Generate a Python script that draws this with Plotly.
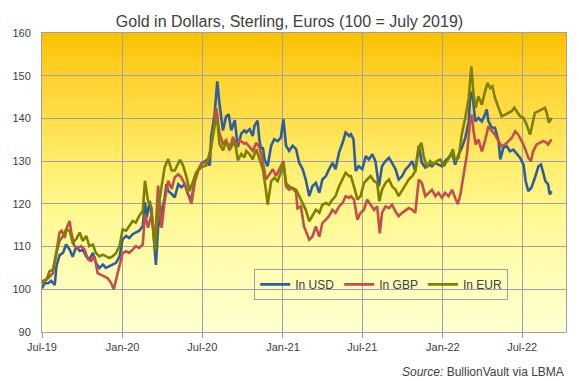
import base64
import pandas as pd
import plotly.graph_objects as go

BASE = pd.Timestamp("2019-07-01")

# day offsets from 1 July 2019, index values (100 = July 2019)
usd_days = [0, 6, 14, 21, 29, 33, 40, 48, 55, 63, 70, 78, 86, 93, 101, 108, 116, 123, 131, 139, 146, 154, 161, 169, 177, 184, 192, 199, 207, 214, 222, 230,
            235, 239, 246, 254, 260, 265, 273, 280, 284, 288, 296, 303, 311, 318, 326, 333, 341, 349, 356, 364, 375, 383, 386, 394, 400, 405, 413, 420, 426, 432, 440, 447, 455, 462,
            466, 474, 481, 485, 492, 496, 500, 504, 508, 515, 523, 530, 538, 545, 551, 557, 564, 572, 580, 587, 595, 602, 610, 617, 625, 633, 640, 648, 655, 663, 670, 678, 686, 693, 701,
            705, 711, 716, 723, 731, 739, 746, 754, 761, 769, 776, 784, 792, 799, 807, 814, 822, 830, 837, 845, 852, 860, 867, 875, 883, 890, 898, 905, 913, 920, 928, 936,
            943, 951, 958, 966, 974, 977, 981, 985, 989, 996, 1004, 1011, 1015, 1019, 1027, 1034, 1042, 1046, 1053, 1061, 1068, 1076, 1083, 1091, 1099, 1104, 1110, 1117, 1125, 1133, 1139, 1144, 1149, 1155, 1159, 1163]
usd_vals = [100.2, 101.4, 101.4, 102, 101, 105.4, 108, 108.5, 110.5, 109.3, 107.6, 110, 109, 109.3, 107.7, 107, 108.5, 106.2, 105, 105.8, 105, 105.4, 105.8, 106.2, 107.7, 111.7, 112.5, 112, 112.9, 113.3, 113.7, 114.8,
            120.4, 116.8, 120.7, 113.6, 105.7, 114.4, 118.3, 121.5, 124.6, 123, 122.3, 121.5, 124.6, 123.9, 124.6, 122.3, 121, 125.4, 127.8, 129.4, 130.2, 129, 135.7, 141, 148.7, 143.5, 137.2, 140.4, 141, 137.2, 139.6, 133.3, 136.5, 137.2,
            136.7, 137.5, 135.9, 138.3, 139.5, 135.1, 132.8, 133.2, 130.4, 128.8, 133.6, 135.1, 134.7, 135.5, 139.8, 133.6, 132.4, 133.6, 132.8, 129.6, 128.1, 125.7, 121.8, 124.1, 124.9, 122.6, 125.7, 126.5, 128.1, 129.6, 128.1, 132, 134.3, 136.7, 135.9,
            136.3, 135.1, 127.7, 128.8, 128.1, 131.2, 130.4, 131.6, 130, 124.1, 128.8, 130, 130.8, 129.6, 128.1, 125.7, 126.5, 128.1, 128.8, 130, 127.7, 133.6, 129.6, 128.5, 129.2, 128.8, 129.6, 129.2, 128.8, 130, 130.8, 132,
            129.2, 131.6, 133.1, 135.4, 139.3, 144.8, 146.3, 143.2, 139.3, 140.1, 139.3, 140.9, 142.1, 139.3, 137.8, 137.8, 134.7, 130.4, 133.1, 133.5, 132.3, 132.7, 131.9, 130.8, 129.2, 125.3, 123, 123.8, 126.1, 128.8, 129.2, 126.9, 125.3, 124.6, 122.2, 123]

gbp_days = [0, 14, 25, 33, 40, 45, 52, 58, 63, 67, 74, 82, 89, 97, 105, 112, 120, 127, 135, 142, 150, 158, 164, 169, 177, 184, 192, 199, 207, 214, 222, 230,
            235, 242, 250, 258, 265, 273, 280, 288, 296, 303, 311, 318, 326, 333, 341, 349, 356, 364, 375, 383, 390, 398, 405, 413, 420, 428, 436, 443, 451, 462,
            466, 474, 481, 489, 496, 504, 511, 519, 527, 534, 542, 551, 557, 564, 572, 580, 583, 591, 598, 610, 617, 625, 633, 640, 648, 655, 663, 670, 678, 686, 693, 701,
            705, 712, 720, 727, 735, 742, 750, 758, 765, 771, 776, 784, 792, 799, 807, 814, 822, 830, 837, 845, 852, 860, 867, 875, 883, 890, 898, 905, 913, 920, 928, 936,
            943, 949, 955, 962, 970, 977, 981, 985, 990, 996, 1004, 1011, 1019, 1027, 1034, 1042, 1049, 1057, 1064, 1072, 1080, 1087, 1095, 1102, 1110, 1116, 1121, 1129, 1136, 1144, 1152, 1155, 1163]
gbp_vals = [101.8, 102.6, 103.8, 109.3, 113.3, 113.7, 112, 114.8, 116, 113.3, 110.1, 109.7, 110.1, 109.3, 107, 106.6, 107.7, 103.8, 103.4, 103, 102.6, 101.4, 100, 102.2, 105.8, 108.5, 108.9, 108.5, 109.3, 110.1, 109.7, 110.5,
            117.6, 114.4, 117.6, 111, 124.3, 114.4, 120.7, 125.4, 123.5, 126.2, 126.9, 126.2, 124.6, 122.3, 120, 125.4, 127.8, 129.4, 129.8, 131, 136.5, 142.4, 136.5, 134.1, 134.9, 132.5, 135.7, 133.3, 134.9, 134.1,
            134.3, 133.2, 132.4, 134.3, 133.2, 130, 125.7, 126.9, 128.1, 126.5, 128.1, 130, 124.1, 123.3, 123.7, 122.6, 119, 119.4, 114.7, 111.6, 112.3, 114.7, 112.3, 115.5, 116.3, 117.1, 118.6, 117.9, 119.4, 120.2, 121.8, 121.4,
            121.8, 121, 116.3, 117.9, 118.6, 121, 119.8, 118.6, 119.4, 113.1, 117.9, 119.4, 119, 119.8, 118.2, 117.1, 117.9, 118.6, 119, 118.6, 117.9, 125.7, 124.9, 121.8, 122.6, 123.3, 121.8, 122.6, 121.4, 122.6, 121.8, 123.3,
            121.4, 119.9, 122.2, 126.9, 131.6, 139.3, 140.9, 137, 133.9, 135.1, 132.3, 134.7, 138.2, 137, 136.2, 134.7, 133.5, 133.9, 134.7, 135.4, 137, 136.2, 134.7, 133.1, 130.8, 130, 132.3, 133.9, 134.3, 134.7, 134.3, 133.9, 135.1]

eur_days = [0, 10, 17, 25, 33, 40, 48, 55, 63, 70, 78, 86, 93, 101, 108, 116, 123, 131, 139, 146, 154, 161, 169, 177, 184, 192, 199, 207, 214, 222, 230,
            235, 242, 250, 258, 261, 269, 280, 288, 296, 303, 315, 322, 330, 337, 345, 352, 364, 375, 386, 395, 400, 405, 413, 420, 432, 440, 447, 455, 462,
            466, 474, 481, 489, 496, 504, 511, 515, 523, 530, 538, 545, 551, 557, 564, 572, 580, 587, 595, 602, 610, 617, 625, 633, 640, 648, 655, 663, 670, 678, 686, 693, 701,
            705, 712, 720, 727, 735, 742, 750, 758, 765, 770, 776, 784, 792, 799, 807, 814, 822, 830, 837, 845, 852, 860, 866, 871, 879, 886, 894, 901, 909, 917, 924, 932, 938,
            943, 951, 958, 966, 974, 977, 980, 985, 990, 996, 1004, 1011, 1017, 1023, 1028, 1034, 1042, 1049, 1057, 1064, 1072, 1078, 1083, 1091, 1099, 1106, 1114, 1119, 1125, 1133, 1140, 1148, 1152, 1157, 1163]
eur_vals = [101.4, 102.2, 104.2, 104.6, 108.5, 111.3, 112.5, 114, 113.7, 110.9, 111.7, 113.3, 111.3, 112.5, 110.1, 110.5, 108.5, 107.7, 108.1, 107.7, 107.3, 107.7, 108.5, 110.1, 114, 113.7, 114.8, 116, 115.6, 117.2, 118.4,
            125.4, 120.7, 119.1, 109, 113.6, 121.5, 128.6, 130.5, 127.8, 127.8, 130.3, 129, 126.2, 123, 125.4, 127.4, 128.6, 129, 133.3, 138.8, 139.6, 134.1, 132.5, 134.5, 133.3, 134.9, 130.2, 131.7, 130.9,
            132.4, 131.6, 130.4, 132.8, 130.4, 128.1, 123.3, 119.8, 125.3, 126.1, 125.3, 127.3, 129.6, 124.9, 124.1, 123.7, 123.3, 121.8, 120.2, 118.6, 115.9, 117.1, 118.6, 117.9, 119.8, 120.2, 119.8, 121, 121.8, 124.1, 125.7, 127.3, 126.5,
            126.5, 124.1, 121, 121.8, 124.9, 125.7, 126.5, 125.3, 124.9, 120.6, 123.3, 124.9, 125.7, 124.1, 123.3, 121.8, 123.3, 124.5, 125.7, 126.5, 127.7, 133.2, 134.3, 131.2, 128.5, 130, 129.2, 130, 130.4, 128.8, 130, 131.2, 132.8,
            130, 130.8, 136.2, 140.1, 144.8, 148.7, 152.2, 145.6, 142.5, 145.2, 143.2, 146.3, 148.3, 147.1, 147.5, 144.8, 142.5, 140.5, 140.9, 141.3, 141.7, 142.5, 141.7, 140.5, 140.1, 138.6, 136.2, 138.6, 141.3, 141.7, 142.1, 142.5, 141.3, 139, 140.1]

series_names = ["In USD", "In GBP", "In EUR"]
series_colors = ["#2f5e99", "#c0504d", "#808000"]


def to_dates(days):
    return [BASE + pd.Timedelta(days=int(d)) for d in days]


svg = ('<svg xmlns="http://www.w3.org/2000/svg" width="100" height="100" preserveAspectRatio="none">'
       '<defs><linearGradient id="g" x1="0" y1="0" x2="0" y2="1">'
       '<stop offset="0" stop-color="#FFC000"/>'
       '<stop offset="0.15" stop-color="#FFD22E"/>'
       '<stop offset="0.3" stop-color="#FFE04E"/>'
       '<stop offset="0.45" stop-color="#FFEE70"/>'
       '<stop offset="0.6" stop-color="#FFF890"/>'
       '<stop offset="0.8" stop-color="#FFFDB4"/>'
       '<stop offset="1" stop-color="#FFFFD2"/>'
       '</linearGradient></defs><rect width="100" height="100" fill="url(#g)"/></svg>')
svg_uri = "data:image/svg+xml;base64," + base64.b64encode(svg.encode()).decode()

fig = go.Figure()
for days, vals, name, color in [(usd_days, usd_vals, series_names[0], series_colors[0]),
                                (gbp_days, gbp_vals, series_names[1], series_colors[1]),
                                (eur_days, eur_vals, series_names[2], series_colors[2])]:
    fig.add_trace(go.Scatter(x=to_dates(days), y=vals, mode="lines", name=name,
                             line=dict(color=color, width=2.6)))

grid = "#a0a0a0"
txt = "#404040"
fig.update_layout(
    width=579, height=381,
    margin=dict(l=40, r=13, t=33, b=49),
    paper_bgcolor="white",
    plot_bgcolor="rgba(0,0,0,0)",
    font=dict(family="Liberation Sans, Arial, sans-serif", size=11, color=txt),
    title=dict(text="Gold in Dollars, Sterling, Euros (100 = July 2019)", x=0.5, xref="container",
               xanchor="center", y=1 - 21 / 381, yref="container", yanchor="middle",
               font=dict(size=16, color=txt)),
    showlegend=True,
    legend=dict(orientation="h", x=0.405, y=0.211, xanchor="left", yanchor="top",
                bordercolor=grid, borderwidth=1, bgcolor="rgba(0,0,0,0)",
                font=dict(size=12, color=txt)),
    images=[dict(source=svg_uri, xref="paper", yref="paper", x=0, y=1, sizex=1, sizey=1,
                 xanchor="left", yanchor="top", sizing="stretch", layer="below")],
    annotations=[dict(text="<i>Source:</i> BullionVault via LBMA", xref="paper", yref="paper",
                      x=1, y=(332 - 372) / 299, xanchor="right", yanchor="middle", showarrow=False,
                      font=dict(size=12, color=txt))],
)
fig.update_xaxes(type="date", range=[BASE, BASE + pd.Timedelta(days=1196)],
                 tick0="2019-07-01", dtick="M6", tickformat="%b-%y",
                 ticks="outside", ticklen=5, tickcolor=grid,
                 showgrid=True, gridcolor=grid, gridwidth=1,
                 showline=True, linecolor=grid, linewidth=1, mirror=True, zeroline=False)
fig.update_yaxes(range=[90, 160], dtick=10, ticks="outside", ticklen=8, tickcolor="rgba(0,0,0,0)",
                 showgrid=True, gridcolor=grid, gridwidth=1,
                 showline=True, linecolor=grid, linewidth=1, mirror=True, zeroline=False)

fig.write_html("out.html", config={"displayModeBar": False},
               post_script="document.body.style.margin='0';document.body.style.padding='0';")
